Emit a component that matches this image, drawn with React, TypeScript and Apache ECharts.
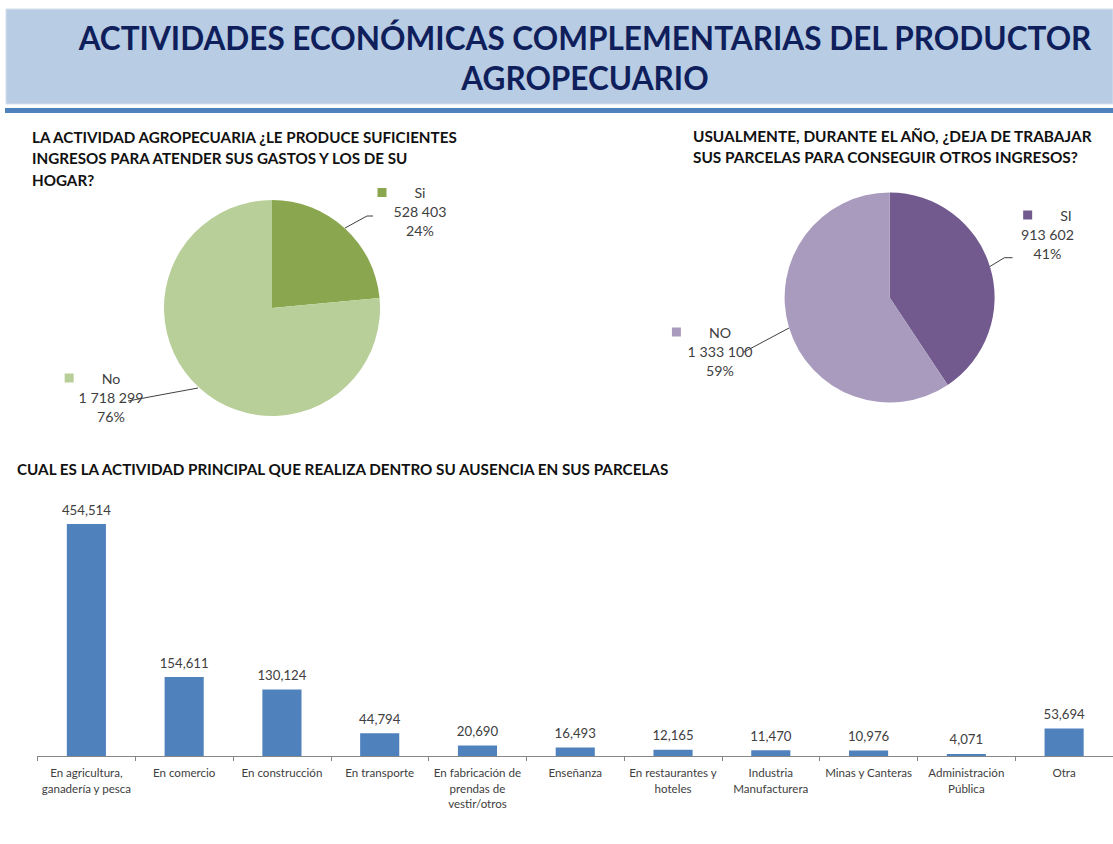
import React, { useEffect, useRef } from 'react';
import * as echarts from 'echarts';

const TITLE_LINES = ['ACTIVIDADES ECONÓMICAS COMPLEMENTARIAS DEL PRODUCTOR', 'AGROPECUARIO'];
const PIE1_TITLE = [
  'LA ACTIVIDAD AGROPECUARIA ¿LE PRODUCE SUFICIENTES',
  'INGRESOS PARA ATENDER SUS GASTOS Y LOS DE SU',
  'HOGAR?',
];
const PIE2_TITLE = [
  'USUALMENTE, DURANTE EL AÑO, ¿DEJA DE TRABAJAR',
  'SUS PARCELAS PARA CONSEGUIR OTROS INGRESOS?',
];
const BAR_TITLE = 'CUAL ES LA ACTIVIDAD PRINCIPAL QUE REALIZA DENTRO SU AUSENCIA EN SUS PARCELAS';

const pie1Names = ['Si', 'No'];
const pie1Values = [528403, 1718299];
const pie1Colors = ['#8AA64F', '#B9CF99'];

const pie2Names = ['SI', 'NO'];
const pie2Values = [913602, 1333100];
const pie2Colors = ['#725A8E', '#A99BBE'];

const barCategories = [
  'En agricultura,\nganadería y pesca',
  'En comercio',
  'En construcción',
  'En transporte',
  'En fabricación de\nprendas de\nvestir/otros',
  'Enseñanza',
  'En restaurantes y\nhoteles',
  'Industria\nManufacturera',
  'Minas y Canteras',
  'Administración\nPública',
  'Otra',
];
const barValues = [454514, 154611, 130124, 44794, 20690, 16493, 12165, 11470, 10976, 4071, 53694];

const FONT = 'Lato';

function fitSize(text: string, weight: string, target: number): number {
  const ctx = document.createElement('canvas').getContext('2d');
  if (!ctx) return 14;
  ctx.font = `${weight} 100px ${FONT}`;
  const w = ctx.measureText(text).width;
  return (100 * target) / w;
}

export default function App() {
  const ref = useRef<HTMLDivElement>(null);

  useEffect(() => {
    document.body.style.margin = '0';
    if (!ref.current) return;
    const chart = echarts.init(ref.current, undefined, { renderer: 'svg' });

    const titleSize = fitSize(TITLE_LINES[0], 'bold', 1014);
    const sub1Size = fitSize(PIE1_TITLE[0], 'bold', 427);
    const sub2Size = fitSize(PIE2_TITLE[0], 'bold', 401);
    const barTitleSize = fitSize(BAR_TITLE, 'bold', 655);
    const catSize = fitSize('En construcción', 'normal', 81);
    const valSize = fitSize('454,514', 'normal', 49);
    const pieLblSize = fitSize('528 403', 'normal', 53);

    const fmtSpace = (v: number) => v.toLocaleString('en-US').replace(/,/g, ' ');
    const fmtComma = (v: number) => v.toLocaleString('en-US');

    const txt = { fontFamily: FONT, fontSize: pieLblSize, color: '#404040', lineHeight: 19, align: 'center' };
    const makeRich = (colors: string[]) => ({
      m0: { width: 9, height: 9, backgroundColor: colors[0], lineHeight: 19, align: 'center' },
      m1: { width: 9, height: 9, backgroundColor: colors[1], lineHeight: 19, align: 'center' },
      g: { width: 28, lineHeight: 19, align: 'center' },
      g2: { width: 37, lineHeight: 19, align: 'center' },
      t: txt,
      v: txt,
    });
    const pieFormatter = (p: any) =>
      `{m${p.dataIndex}| }{g| }{t|${p.name}}{g2| }\n{v|${fmtSpace(p.value)}}\n{v|${Math.round(p.percent)}%}`;

    const pie1Layout = [
      { x: 420, y: 183, pts: [[345, 228], [367, 216], [373, 216]] },
      { x: 111, y: 368.5, pts: [[198, 388], [160, 395], [128, 401]] },
    ];
    const pie2Layout = [
      { x: 1047.5, y: 205.5, pts: [[989.6, 266.7], [1004.4, 257.7], [1012.6, 257.7]] },
      { x: 720, y: 322.5, pts: [[789, 328], [760, 343.5], [744, 352]] },
    ];

    const headerTexts: any[] = [];
    TITLE_LINES.forEach((t, i) => {
      headerTexts.push({
        type: 'text',
        x: 585,
        y: 38 + i * 40,
        style: {
          text: t,
          fill: '#0F1F5C',
          font: `bold ${titleSize}px ${FONT}`,
          textAlign: 'center',
          textVerticalAlign: 'middle',
        },
      });
    });
    PIE1_TITLE.forEach((t, i) => {
      headerTexts.push({
        type: 'text',
        x: 32,
        y: 136.7 + i * 21.6,
        style: { text: t, fill: '#111111', font: `bold ${sub1Size}px ${FONT}`, textAlign: 'left', textVerticalAlign: 'middle' },
      });
    });
    PIE2_TITLE.forEach((t, i) => {
      headerTexts.push({
        type: 'text',
        x: 693,
        y: 136 + i * 20.5,
        style: { text: t, fill: '#111111', font: `bold ${sub2Size}px ${FONT}`, textAlign: 'left', textVerticalAlign: 'middle' },
      });
    });
    headerTexts.push({
      type: 'text',
      x: 17,
      y: 469,
      style: { text: BAR_TITLE, fill: '#111111', font: `bold ${barTitleSize}px ${FONT}`, textAlign: 'left', textVerticalAlign: 'middle' },
    });

    const option: any = {
      animation: false,
      backgroundColor: '#ffffff',
      graphic: [
        { type: 'rect', shape: { x: 6, y: 9, width: 1107, height: 95 }, style: { fill: '#B8CCE4', stroke: '#D6E1EE', lineWidth: 1 }, z: 0 },
        { type: 'rect', shape: { x: 5, y: 108, width: 1108, height: 5 }, style: { fill: '#4F81BD' }, z: 0 },
        ...headerTexts,
      ],
      grid: { left: 37.5, top: 524, width: 1078, bottom: 88, containLabel: false },
      xAxis: {
        type: 'category',
        data: barCategories,
        axisLine: { lineStyle: { color: '#868686', width: 1 } },
        axisTick: { show: true, length: 5, lineStyle: { color: '#868686' } },
        axisLabel: {
          interval: 0,
          color: '#404040',
          fontFamily: FONT,
          fontSize: catSize,
          lineHeight: 15.5,
          margin: 9,
        },
        splitLine: { show: false },
      },
      yAxis: { type: 'value', min: 0, max: 454514, show: false, splitLine: { show: false } },
      series: [
        {
          type: 'bar',
          data: barValues,
          barWidth: '40%',
          itemStyle: { color: '#4F81BD' },
          silent: true,
          label: {
            show: true,
            position: 'top',
            distance: 8,
            color: '#404040',
            fontFamily: FONT,
            fontSize: valSize,
            formatter: (p: any) => fmtComma(p.value),
          },
        },
        {
          type: 'pie',
          center: [272, 308],
          radius: 108,
          startAngle: 90,
          clockwise: true,
          silent: true,
          itemStyle: { borderWidth: 0 },
          data: pie1Names.map((n, i) => ({ name: n, value: pie1Values[i], itemStyle: { color: pie1Colors[i] } })),
          label: { show: true, formatter: pieFormatter, rich: makeRich(pie1Colors), ...txt },
          labelLine: { show: true, smooth: false, lineStyle: { color: '#404040', width: 1 } },
          labelLayout: (p: any) => {
            const l = pie1Layout[p.dataIndex];
            return { x: l.x, y: l.y, align: 'center', verticalAlign: 'top', labelLinePoints: l.pts };
          },
        },
        {
          type: 'pie',
          center: [889.6, 297.5],
          radius: 105,
          startAngle: 90,
          clockwise: true,
          silent: true,
          itemStyle: { borderWidth: 0 },
          data: pie2Names.map((n, i) => ({ name: n, value: pie2Values[i], itemStyle: { color: pie2Colors[i] } })),
          label: { show: true, formatter: pieFormatter, rich: makeRich(pie2Colors), ...txt },
          labelLine: { show: true, smooth: false, lineStyle: { color: '#404040', width: 1 } },
          labelLayout: (p: any) => {
            const l = pie2Layout[p.dataIndex];
            return { x: l.x, y: l.y, align: 'center', verticalAlign: 'top', labelLinePoints: l.pts };
          },
        },
      ],
    };

    chart.setOption(option);
    return () => {
      chart.dispose();
    };
  }, []);

  return <div ref={ref} style={{ width: 1113, height: 844 }} />;
}
